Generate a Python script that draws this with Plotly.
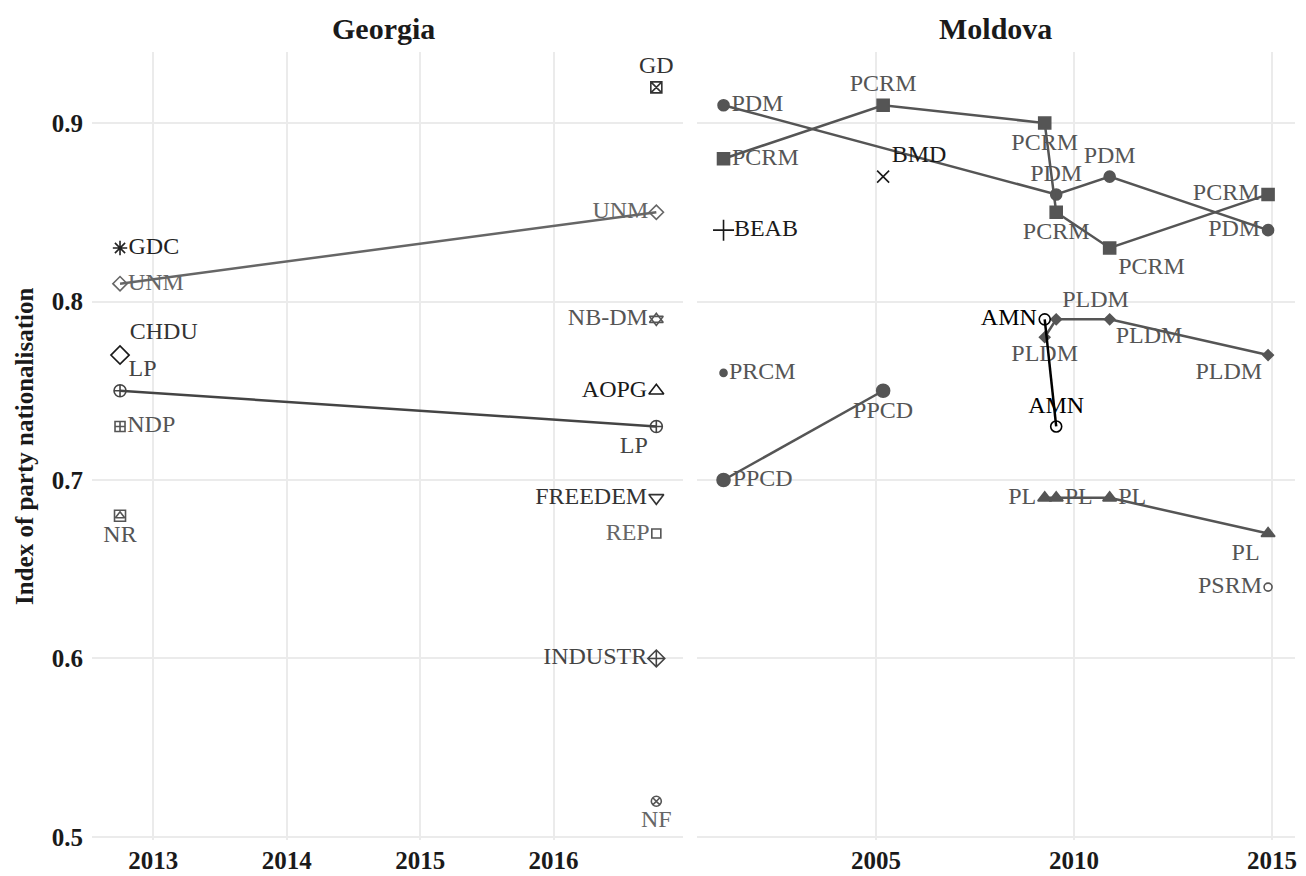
import plotly.graph_objects as go

# ---------------- data ----------------
# Georgia (elections Oct 2012, Oct 2016)
geo_gdc_x = [2012.75]; geo_gdc_y = [0.83]
geo_unm_x = [2012.75, 2016.77]; geo_unm_y = [0.81, 0.85]
geo_chdu_x = [2012.75]; geo_chdu_y = [0.77]
geo_lp_x = [2012.75, 2016.77]; geo_lp_y = [0.75, 0.73]
geo_ndp_x = [2012.75]; geo_ndp_y = [0.73]
geo_nr_x = [2012.75]; geo_nr_y = [0.68]
geo_gd_x = [2016.77]; geo_gd_y = [0.92]
geo_nbdm_x = [2016.77]; geo_nbdm_y = [0.79]
geo_aopg_x = [2016.77]; geo_aopg_y = [0.75]
geo_freedem_x = [2016.77]; geo_freedem_y = [0.69]
geo_rep_x = [2016.77]; geo_rep_y = [0.67]
geo_industr_x = [2016.77]; geo_industr_y = [0.60]
geo_nf_x = [2016.77]; geo_nf_y = [0.52]

# Moldova
mol_pdm_x = [2001.15, 2009.55, 2010.9, 2014.9]; mol_pdm_y = [0.91, 0.86, 0.87, 0.84]
mol_pcrm_x = [2001.15, 2005.18, 2009.26, 2009.55, 2010.9, 2014.9]
mol_pcrm_y = [0.88, 0.91, 0.90, 0.85, 0.83, 0.86]
mol_bmd_x = [2005.18]; mol_bmd_y = [0.87]
mol_beab_x = [2001.15]; mol_beab_y = [0.84]
mol_prcm_x = [2001.15]; mol_prcm_y = [0.76]
mol_ppcd_x = [2001.15, 2005.18]; mol_ppcd_y = [0.70, 0.75]
mol_amn_x = [2009.26, 2009.55]; mol_amn_y = [0.79, 0.73]
mol_pldm_x = [2009.26, 2009.55, 2010.9, 2014.9]; mol_pldm_y = [0.78, 0.79, 0.79, 0.77]
mol_pl_x = [2009.26, 2009.55, 2010.9, 2014.9]; mol_pl_y = [0.69, 0.69, 0.69, 0.67]
mol_psrm_x = [2014.9]; mol_psrm_y = [0.64]

geo_ticks = [2013, 2014, 2015, 2016]
mol_ticks = [2005, 2010, 2015]
y_ticks = [0.5, 0.6, 0.7, 0.8, 0.9]

# ---------------- figure ----------------
FONT = "Liberation Serif"
DARK = "#1a1a1a"
GREY = "#555555"
LGREY = "#666666"
OFF = 8                      # page body margin
W, H = 1306 - OFF, 876 - OFF


def px_x(x):
    return (x - OFF) / W


def px_y(y):
    return 1 - (y - OFF) / H


fig = go.Figure()


def add(x, y, name, ax, symbol, color, size, pos, line=None, tcolor=None, show_text=True, lw=2.5):
    yax = "y" if ax == "x" else "y2"
    fig.add_trace(go.Scatter(
        x=x, y=y, xaxis=ax, yaxis=yax,
        mode=("lines+" if line else "") + "markers" + ("+text" if show_text else ""),
        text=[name] * len(x) if show_text else None,
        textposition=pos,
        textfont=dict(family=FONT, size=24, color=tcolor or color),
        marker=dict(symbol=symbol, size=size, color=color, line=dict(width=1.6, color=color)),
        line=dict(color=line, width=lw) if line else None,
        showlegend=False, hoverinfo="skip", cliponaxis=False,
    ))

# Georgia
add(geo_unm_x, geo_unm_y, "UNM", "x", "diamond-open", LGREY, 11, ["middle right", "middle left"], line=LGREY)
add(geo_lp_x, geo_lp_y, "LP", "x", "circle-cross-open", "#444444", 12, ["top right", "bottom left"], line="#444444")
add(geo_gdc_x, geo_gdc_y, "GDC", "x", "asterisk-open", "#222222", 12, ["middle right"])
add(geo_chdu_x, geo_chdu_y, "CHDU", "x", "diamond-open", DARK, 14, ["top right"], tcolor="#333333")
add(geo_ndp_x, geo_ndp_y, "NDP", "x", "square-cross-open", GREY, 10, ["middle right"])
add(geo_nr_x, geo_nr_y, "NR", "x", "square-open", GREY, 11, ["bottom center"])
add(geo_nr_x, geo_nr_y, "", "x", "triangle-up-open", GREY, 8, ["bottom center"], show_text=False)
add(geo_gd_x, geo_gd_y, "GD", "x", "square-x-open", "#333333", 11, ["top center"])
add(geo_nbdm_x, geo_nbdm_y, "NB-DM", "x", "triangle-up-open", GREY, 12, ["middle left"])
add(geo_nbdm_x, geo_nbdm_y, "", "x", "triangle-down-open", GREY, 12, ["middle left"], show_text=False)
add(geo_aopg_x, geo_aopg_y, "AOPG", "x", "triangle-up-open", DARK, 13, ["middle left"])
add(geo_freedem_x, geo_freedem_y, "FREEDEM", "x", "triangle-down-open", "#333333", 13, ["middle left"])
add(geo_rep_x, geo_rep_y, "REP", "x", "square-open", GREY, 9, ["middle left"], tcolor=LGREY)
add(geo_industr_x, geo_industr_y, "INDUSTR", "x", "diamond-cross-open", "#444444", 13, ["middle left"])
add(geo_nf_x, geo_nf_y, "NF", "x", "circle-x-open", GREY, 10, ["bottom center"], tcolor=LGREY)

# Moldova
add(mol_pdm_x, mol_pdm_y, "PDM", "x2", "circle", GREY, 11,
    ["middle right", "top center", "top center", "middle left"], line=GREY)
add(mol_pcrm_x, mol_pcrm_y, "PCRM", "x2", "square", GREY, 12,
    ["middle right", "top center", "bottom center", "bottom center", "bottom right", "middle left"], line=GREY)
add(mol_bmd_x, mol_bmd_y, "BMD", "x2", "x-thin-open", DARK, 12, ["top right"])
add(mol_beab_x, mol_beab_y, "BEAB", "x2", "cross-thin-open", DARK, 15, ["middle right"])
add(mol_prcm_x, mol_prcm_y, "PRCM", "x2", "circle", GREY, 7, ["middle right"])
add(mol_ppcd_x, mol_ppcd_y, "PPCD", "x2", "circle", GREY, 13, ["middle right", "bottom center"], line=GREY)
add(mol_pldm_x, mol_pldm_y, "PLDM", "x2", "diamond", GREY, 8,
    ["bottom center", "top right", "bottom right", "bottom left"], line=GREY)
add(mol_pl_x, mol_pl_y, "PL", "x2", "triangle-up", GREY, 12,
    ["middle left", "middle right", "middle right", "bottom left"], line=GREY)
add(mol_amn_x, mol_amn_y, "AMN", "x2", "circle-open", "#000000", 11, ["middle left", "top center"], line="#000000")
add(mol_psrm_x, mol_psrm_y, "PSRM", "x2", "circle-open", GREY, 8, ["middle left"])

tickfont = dict(family=FONT, size=25, color="#1a1a1a", weight="bold")
grid = dict(showgrid=True, gridcolor="#ebebeb", gridwidth=2, zeroline=False, showline=False,
            ticks="", automargin=False)

TOP, BOT = 52, 840            # panel top / bottom in reference pixels
ydom = [px_y(BOT), px_y(TOP)]
yrange = [0.4983, 0.9398]

fig.update_layout(
    width=W, height=H,
    margin=dict(l=0, r=0, t=0, b=0),
    plot_bgcolor="white", paper_bgcolor="white",
    xaxis=dict(domain=[px_x(92), px_x(683)], range=[2012.54, 2016.97], anchor="y",
               tickvals=geo_ticks, ticktext=[str(t) for t in geo_ticks], tickfont=tickfont,
               ticklabelstandoff=3, **grid),
    xaxis2=dict(domain=[px_x(697), px_x(1295)], range=[2000.48, 2015.58], anchor="y2",
                tickvals=mol_ticks, ticktext=[str(t) for t in mol_ticks], tickfont=tickfont,
                ticklabelstandoff=3, **grid),
    yaxis=dict(domain=ydom, range=yrange, anchor="x",
               tickvals=y_ticks, ticktext=["0.5", "0.6", "0.7", "0.8", "0.9"], tickfont=tickfont,
               ticklabelstandoff=8, **grid),
    yaxis2=dict(domain=ydom, range=yrange, anchor="x2", matches="y", showticklabels=False,
                tickvals=y_ticks, **grid),
    annotations=[
        dict(text="Georgia", x=px_x(383), y=px_y(28), xref="paper", yref="paper",
             xanchor="center", yanchor="middle",
             showarrow=False, font=dict(family=FONT, size=30, color="#1a1a1a", weight="bold")),
        dict(text="Moldova", x=px_x(995), y=px_y(28), xref="paper", yref="paper",
             xanchor="center", yanchor="middle",
             showarrow=False, font=dict(family=FONT, size=30, color="#1a1a1a", weight="bold")),
        dict(text="Index of party nationalisation", x=px_x(24), y=px_y(446), xref="paper", yref="paper",
             xanchor="center", yanchor="middle", textangle=-90,
             showarrow=False, font=dict(family=FONT, size=25, color="#1a1a1a", weight="bold")),
    ],
)

fig.write_html("out.html")
